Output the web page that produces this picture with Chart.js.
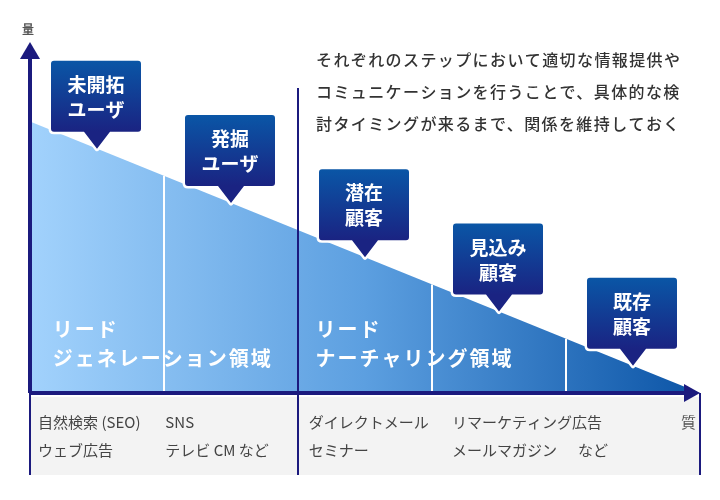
<!DOCTYPE html>
<html><head><meta charset="utf-8">
<script src="https://cdn.jsdelivr.net/npm/chart.js@4"></script>
<style>body{margin:0;background:#fff}</style>
</head><body>
<canvas id="c" width="720" height="500"></canvas>
<script>
// stage positions on x (0..5) and volume
const stageX = [0, 5];
const volume = [78, 0];
const dividers = [1, 2, 3, 4];
const calloutAt = [0.5, 1.5, 2.5, 3.5, 4.5];
const calloutText = [["未開拓", "ユーザ"], ["発掘", "ユーザ"], ["潜在", "顧客"], ["見込み", "顧客"], ["既存", "顧客"]];
const zoneLabels = [[0.17, ["リード", "ジェネレーション領域"]], [2.13, ["リード", "ナーチャリング領域"]]];
const bottomCols = [0.06, 1.01, 2.08, 3.15, 4.09];
const bottomRows = [
  ["自然検索 (SEO)", "SNS", "ダイレクトメール", "リマーケティング広告", ""],
  ["ウェブ広告", "テレビ CM など", "セミナー", "メールマガジン", "など"]
];
const note = ["それぞれのステップにおいて適切な情報提供や", "コミュニケーションを行うことで、具体的な検", "討タイミングが来るまで、関係を維持しておく"];

const NAVY = "#1b1a7e";
const JP = '"Noto Sans CJK JP", sans-serif';

const lineY = x => volume[0] + (volume[1] - volume[0]) * (x - stageX[0]) / (stageX[1] - stageX[0]);

const deco = {
  id: "deco",
  beforeDatasetsDraw(chart) {
    const {ctx, chartArea: a, scales: {x}} = chart;
    ctx.save();
    ctx.fillStyle = "#f3f3f3";
    ctx.fillRect(a.left, a.bottom + 4, a.right - a.left, 78);
    ctx.strokeStyle = NAVY; ctx.lineWidth = 2;
    [0, 2, 5].forEach(v => {
      ctx.beginPath(); ctx.moveTo(x.getPixelForValue(v), a.bottom); ctx.lineTo(x.getPixelForValue(v), a.bottom + 82); ctx.stroke();
    });
    ctx.restore();
  },
  afterDatasetsDraw(chart) {
    const {ctx, chartArea: a, scales: {x, y}} = chart;
    ctx.save();
    // white dividers
    ctx.strokeStyle = "#fff"; ctx.lineWidth = 2;
    dividers.forEach(v => {
      const px = x.getPixelForValue(v);
      ctx.beginPath(); ctx.moveTo(px, a.bottom); ctx.lineTo(px, y.getPixelForValue(lineY(v))); ctx.stroke();
    });
    // mid navy line
    ctx.strokeStyle = NAVY;
    const mx = x.getPixelForValue(2);
    ctx.beginPath(); ctx.moveTo(mx, 88); ctx.lineTo(mx, a.bottom); ctx.stroke();
    // axes
    ctx.lineWidth = 4;
    ctx.beginPath(); ctx.moveTo(a.left, a.bottom); ctx.lineTo(a.right - 12, a.bottom);
    ctx.moveTo(a.left, a.bottom); ctx.lineTo(a.left, a.top + 12); ctx.stroke();
    ctx.fillStyle = NAVY;
    ctx.beginPath(); ctx.moveTo(a.right, a.bottom); ctx.lineTo(a.right - 16, a.bottom - 9); ctx.lineTo(a.right - 16, a.bottom + 9); ctx.fill();
    ctx.beginPath(); ctx.moveTo(a.left, a.top - 3); ctx.lineTo(a.left - 10, a.top + 14); ctx.lineTo(a.left + 10, a.top + 14); ctx.fill();
    ctx.fillStyle = "#555"; ctx.font = "bold 12px " + JP; ctx.textAlign = "center";
    ctx.fillText("量", a.left - 2, 34);
    ctx.textAlign = "right"; ctx.font = "15px " + JP;
    ctx.fillText("質", a.right - 4, 428);
    // zone labels
    ctx.fillStyle = "#fff"; ctx.font = "bold 20px " + JP; ctx.textAlign = "left";
    ctx.letterSpacing = "2px";
    zoneLabels.forEach(([v, lines]) => {
      lines.forEach((t, i) => ctx.fillText(t, x.getPixelForValue(v), 337 + i * 29));
    });
    ctx.letterSpacing = "0px";
    // callouts
    calloutAt.forEach((v, i) => {
      const tx = x.getPixelForValue(v), ty = y.getPixelForValue(lineY(v));
      const w = 90, h = 71, bx = tx - 46, by = ty - 17 - h;
      const path = () => {
        ctx.beginPath();
        ctx.moveTo(bx + 3, by); ctx.lineTo(bx + w - 3, by); ctx.quadraticCurveTo(bx + w, by, bx + w, by + 3);
        ctx.lineTo(bx + w, by + h - 3); ctx.quadraticCurveTo(bx + w, by + h, bx + w - 3, by + h);
        ctx.lineTo(tx + 13, by + h); ctx.lineTo(tx, ty); ctx.lineTo(tx - 13, by + h);
        ctx.lineTo(bx + 3, by + h); ctx.quadraticCurveTo(bx, by + h, bx, by + h - 3);
        ctx.lineTo(bx, by + 3); ctx.quadraticCurveTo(bx, by, bx + 3, by); ctx.closePath();
      };
      path(); ctx.lineWidth = 5; ctx.strokeStyle = "#fff"; ctx.lineJoin = "round"; ctx.stroke();
      const g = ctx.createLinearGradient(0, by, 0, by + h);
      g.addColorStop(0, "#0a56a6"); g.addColorStop(1, "#1a2382");
      path(); ctx.fillStyle = g; ctx.fill();
      ctx.fillStyle = "#fff"; ctx.font = "bold 19px " + JP; ctx.textAlign = "center";
      calloutText[i].forEach((t, k) => ctx.fillText(t, bx + w / 2, by + 31 + k * 25));
    });
    // note
    ctx.fillStyle = "#333"; ctx.font = "500 16px " + JP; ctx.textAlign = "left";
    ctx.letterSpacing = "1.4px";
    note.forEach((t, i) => ctx.fillText(t, 316, 66 + i * 32));
    ctx.letterSpacing = "0px";
    // bottom labels
    ctx.fillStyle = "#444"; ctx.font = "15px " + JP;
    bottomRows.forEach((row, r) => row.forEach((t, c) => {
      ctx.fillText(t, x.getPixelForValue(bottomCols[c]), 428 + r * 28);
    }));
    ctx.restore();
  }
};

new Chart(document.getElementById("c"), {
  type: "line",
  data: {
    datasets: [{
      data: stageX.map((v, i) => ({x: v, y: volume[i]})),
      borderWidth: 0,
      pointRadius: 0,
      fill: "origin",
      backgroundColor: ctx => {
        const a = ctx.chart.chartArea;
        if (!a) return "#5aa0e8";
        const g = ctx.chart.ctx.createLinearGradient(a.left, 0, a.right, 0);
        g.addColorStop(0, "#a2d2fc"); g.addColorStop(0.5, "#5c9fe0"); g.addColorStop(1, "#0b54a6");
        return g;
      }
    }]
  },
  options: {
    responsive: false,
    animation: false,
    layout: {padding: {left: 30, right: 20, top: 45, bottom: 107}},
    plugins: {legend: {display: false}, tooltip: {enabled: false}},
    scales: {
      x: {type: "linear", min: 0, max: 5, display: false},
      y: {min: 0, max: 100, display: false}
    }
  },
  plugins: [deco]
});
</script>
</body></html>
